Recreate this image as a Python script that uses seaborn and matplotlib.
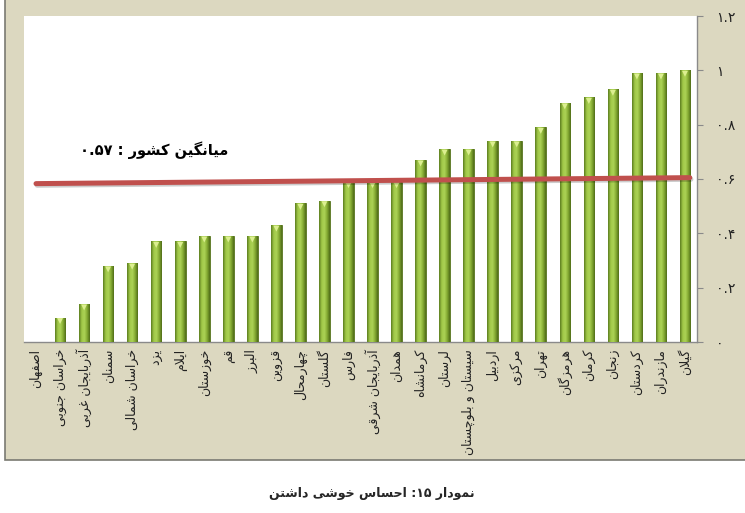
import re
import numpy as np
import matplotlib
matplotlib.use("Agg")
import matplotlib.pyplot as plt
import matplotlib.patches as mpatches
import matplotlib.patheffects as pe
from matplotlib.colors import LinearSegmentedColormap
from matplotlib.transforms import offset_copy
import seaborn as sns

# data
provinces = ["اصفهان", "خراسان جنوبی", "آذربایجان غربی", "سمنان", "خراسان شمالی",
             "یزد", "ایلام", "خوزستان", "قم", "البرز", "قزوین", "چهارمحال", "گلستان",
             "فارس", "آذربایجان شرقی", "همدان", "کرمانشاه", "لرستان", "سیستان و بلوچستان",
             "اردبیل", "مرکزی", "تهران", "هرمزگان", "کرمان", "زنجان", "کردستان",
             "مازندران", "گیلان"]
values = [0.0, 0.09, 0.14, 0.28, 0.29, 0.37, 0.37, 0.39, 0.39, 0.39, 0.43, 0.51, 0.52,
          0.59, 0.59, 0.59, 0.67, 0.71, 0.71, 0.74, 0.74, 0.79, 0.88, 0.90, 0.93, 0.99,
          0.99, 1.0]
avg_line_x = [0, 27.2]
avg_line_y = [0.583, 0.605]
avg_label = "میانگین کشور : ۰.۵۷"
y_ticks = [0, 0.2, 0.4, 0.6, 0.8, 1.0, 1.2]
y_tick_labels = ["۰", "۰.۲", "۰.۴", "۰.۶", "۰.۸", "۱", "۱.۲"]
caption = "نمودار ۱۵: احساس خوشی داشتن"

# minimal Persian shaping (matplotlib has no shaping / bidi)
FORMS = {
    'آ': (0xFE81, False), 'ا': (0xFE8D, False), 'ب': (0xFE8F, True), 'پ': (0xFB56, True),
    'ت': (0xFE95, True), 'ث': (0xFE99, True), 'ج': (0xFE9D, True), 'چ': (0xFB7A, True),
    'ح': (0xFEA1, True), 'خ': (0xFEA5, True), 'د': (0xFEA9, False), 'ذ': (0xFEAB, False),
    'ر': (0xFEAD, False), 'ز': (0xFEAF, False), 'ژ': (0xFB8A, False), 'س': (0xFEB1, True),
    'ش': (0xFEB5, True), 'ص': (0xFEB9, True), 'ض': (0xFEBD, True), 'ط': (0xFEC1, True),
    'ظ': (0xFEC5, True), 'ع': (0xFEC9, True), 'غ': (0xFECD, True), 'ف': (0xFED1, True),
    'ق': (0xFED5, True), 'ک': (0xFB8E, True), 'گ': (0xFB92, True), 'ل': (0xFEDD, True),
    'م': (0xFEE1, True), 'ن': (0xFEE5, True), 'و': (0xFEED, False), 'ه': (0xFEE9, True),
    'ی': (0xFBFC, True),
}


def shape(text):
    out = []
    n = len(text)
    i = 0
    while i < n:
        c = text[i]
        prev = text[i - 1] if i > 0 else None
        joins_prev = c in FORMS and prev in FORMS and FORMS[prev][1]
        if c == 'ل' and i + 1 < n and text[i + 1] in ('ا', 'آ'):
            base = 0xFEFB if text[i + 1] == 'ا' else 0xFEF5
            out.append(chr(base + (1 if joins_prev else 0)))
            i += 2
            continue
        if c not in FORMS:
            out.append(c)
            i += 1
            continue
        iso, dual = FORMS[c]
        nxt = text[i + 1] if i + 1 < n else None
        joins_next = dual and nxt in FORMS
        if joins_prev and joins_next:
            cp = iso + 3
        elif joins_prev:
            cp = iso + 1
        elif joins_next:
            cp = iso + 2
        else:
            cp = iso
        out.append(chr(cp))
        i += 1
    s = ''.join(out)[::-1]
    return re.sub(r'[0-9۰-۹][0-9۰-۹.]*', lambda m: m.group(0)[::-1], s)


sns.set_style("white")
plt.rcParams['font.family'] = ['DejaVu Sans']

fig = plt.figure(figsize=(7.45, 5.13), dpi=100)
fig.patch.set_facecolor("white")
# beige chart area with grey border
fig.patches.append(mpatches.Rectangle((5 / 745, 53 / 513), 1, 1, transform=fig.transFigure,
                                      facecolor="#dcd8c0", edgecolor="#7a7a72", lw=1.2,
                                      zorder=-10))

ax = fig.add_axes([24 / 745, 1 - 342 / 513, (697 - 24) / 745, (342 - 16) / 513])
ax.set_zorder(5)
ax.set_facecolor("white")

sns.barplot(x=provinces, y=values, color="#8ab538", width=0.44, ax=ax,
            edgecolor="#55721c", linewidth=0.6, zorder=3)

# cylinder-like gradient on each bar
cmap = LinearSegmentedColormap.from_list("g", ["#5c7d1f", "#a0c848", "#acd255", "#84aa33", "#506d18"])
grad = np.linspace(0, 1, 64).reshape(1, -1)
for p in list(ax.patches):
    h = p.get_height()
    if h <= 0:
        continue
    x0 = p.get_x()
    im = ax.imshow(grad, extent=[x0, x0 + p.get_width(), 0, h], aspect="auto",
                   cmap=cmap, zorder=3.5)
    im.set_clip_path(p)

# light tip at bar tops
tips = [(i, v) for i, v in enumerate(values) if v > 0]
ax.scatter([t[0] for t in tips], [t[1] for t in tips], marker="v", s=18,
           color="#dcef90", edgecolor="none", zorder=4,
           transform=offset_copy(ax.transData, fig=fig, y=-2.5, units="points"))

# national average line
sns.lineplot(x=avg_line_x, y=avg_line_y, color="#c0504d", lw=3.6, ax=ax, zorder=5,
             path_effects=[pe.SimpleLineShadow(offset=(0.8, -1.2), alpha=0.2), pe.Normal()])
ax.text(4.9, 0.705, shape(avg_label), fontsize=10.5, fontweight="bold", ha="center",
        va="center", color="black", zorder=6)

ax.set_xlim(-0.5, len(provinces) - 0.5)
ax.set_ylim(0, 1.2)

ax.set_xticks(range(len(provinces)))
ax.set_xticklabels([shape(p) for p in provinces], rotation=90, fontsize=9, color="#222222")
ax.set_xticks(np.arange(-0.5, len(provinces), 1), minor=True)
ax.tick_params(axis="x", which="major", length=0, pad=5)
ax.tick_params(axis="x", which="minor", length=5, color="#8a8a8a", width=0.8, direction="out")

ax.yaxis.tick_right()
ax.set_yticks(y_ticks)
ax.set_yticklabels(y_tick_labels, fontsize=10, color="#222222")
ax.tick_params(axis="y", length=4, color="#8a8a8a", width=0.8, direction="out", pad=10)
ax.set_xlabel("")
ax.set_ylabel("")

for side in ["top", "left"]:
    ax.spines[side].set_visible(False)
for side in ["right", "bottom"]:
    ax.spines[side].set_visible(True)
    ax.spines[side].set_color("#8a8a8a")
    ax.spines[side].set_linewidth(1.0)

fig.text(372 / 745, 1 - 493 / 513, shape(caption), fontsize=9, fontweight="bold",
         ha="center", va="center")

fig.savefig("out.png", dpi=100)
